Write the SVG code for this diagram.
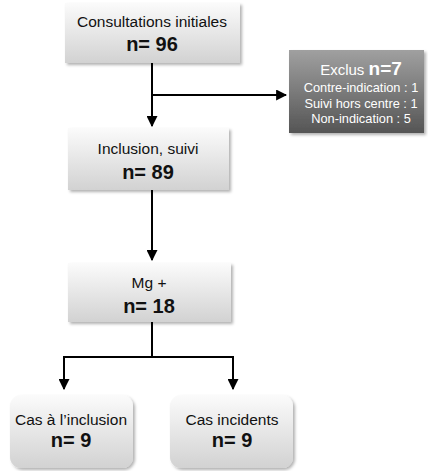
<svg xmlns="http://www.w3.org/2000/svg" width="428" height="471" viewBox="0 0 428 471">
<style>
.t{font-family:"Liberation Sans",Arial,sans-serif;fill:#111;text-anchor:middle}
.n{font-size:20px;font-weight:bold}
.l{font-size:15.5px}
.w{fill:#fff;font-family:"Liberation Sans",Arial,sans-serif;text-anchor:middle}
.c{stroke:#000;stroke-width:2;fill:none}
</style>
<defs>
<linearGradient id="g" x1="0" y1="0" x2="0" y2="1">
<stop offset="0" stop-color="#fbfbfb"/><stop offset="1" stop-color="#d2d2d2"/>
</linearGradient>
<linearGradient id="d" x1="0" y1="0" x2="0" y2="1">
<stop offset="0" stop-color="#a0a0a0"/><stop offset="1" stop-color="#555"/>
</linearGradient>
<filter id="s" x="-10%" y="-10%" width="125%" height="130%">
<feDropShadow dx="2" dy="2" stdDeviation="1.5" flood-color="#000" flood-opacity="0.3"/>
</filter>
<marker id="a" viewBox="0 0 10 10" refX="9" refY="5" markerWidth="5.5" markerHeight="5.5" orient="auto" markerUnits="strokeWidth">
<path d="M0,0 L10,5 L0,10 z" fill="#000"/>
</marker>
</defs>
<g id="connectors">
<path class="c" d="M152,63 V126" marker-end="url(#a)"/>
<path class="c" d="M152,95 H286" marker-end="url(#a)"/>
<path class="c" d="M152,190 V260" marker-end="url(#a)"/>
<path class="c" d="M152,322 V357 M64,357 H233"/>
<path class="c" d="M64,356 V389" marker-end="url(#a)"/>
<path class="c" d="M233,356 V389" marker-end="url(#a)"/>
</g>
<g id="n1">
<rect x="65" y="3" width="175" height="60" fill="url(#g)" filter="url(#s)"/>
<text class="t l" x="152" y="27">Consultations initiales</text>
<text class="t n" x="152" y="51">n= 96</text>
</g>
<g id="excl">
<rect x="289" y="50" width="135" height="83" fill="url(#d)" filter="url(#s)"/>
<text class="w" x="361" y="75" font-size="15">Exclus <tspan font-weight="bold" font-size="19">n=7</tspan></text>
<text class="w" x="361" y="92" font-size="12.8">Contre-indication : 1</text>
<text class="w" x="361" y="108" font-size="12.8">Suivi hors centre : 1</text>
<text class="w" x="361" y="123" font-size="12.8">Non-indication : 5</text>
</g>
<g id="n2">
<rect x="68" y="128" width="161" height="62" fill="url(#g)" filter="url(#s)"/>
<text class="t l" x="148" y="154">Inclusion, suivi</text>
<text class="t n" x="148" y="179">n= 89</text>
</g>
<g id="n3">
<rect x="68" y="263" width="163" height="59" fill="url(#g)" filter="url(#s)"/>
<text class="t l" x="149" y="288">Mg +</text>
<text class="t n" x="149" y="313">n= 18</text>
</g>
<g id="n4">
<rect x="10" y="395" width="123" height="73" rx="11" fill="url(#g)" filter="url(#s)"/>
<text class="t l" x="71" y="425">Cas à l’inclusion</text>
<text class="t n" x="71" y="447">n= 9</text>
</g>
<g id="n5">
<rect x="170" y="395" width="123" height="73" rx="11" fill="url(#g)" filter="url(#s)"/>
<text class="t l" x="232" y="425">Cas incidents</text>
<text class="t n" x="232" y="447">n= 9</text>
</g>
</svg>
